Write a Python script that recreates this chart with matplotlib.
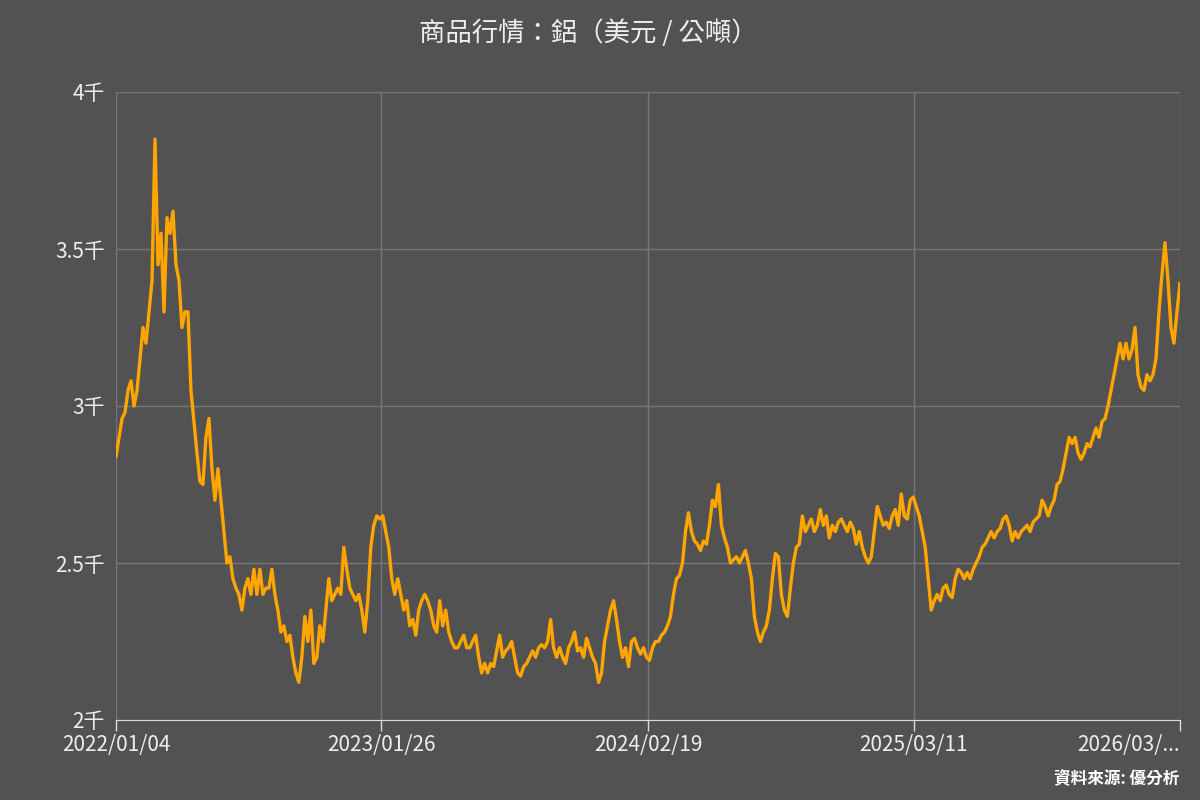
import matplotlib.pyplot as plt
import numpy as np

plt.rcParams['font.family'] = ['Noto Sans CJK TC', 'DejaVu Sans']

# aluminium price, USD / ton (evenly spaced samples)
prices = [
    2840, 2900, 2960, 2980, 3050, 3080, 3000, 3050, 3150, 3250, 3200, 3300, 3400, 3850,
    3450, 3550, 3300, 3600, 3550, 3620, 3450, 3400, 3250, 3300, 3300,
    3050, 2950, 2850, 2760, 2750, 2900, 2960, 2800, 2700, 2800, 2700, 2600, 2500, 2520,
    2450, 2420, 2400, 2350, 2420, 2450, 2400, 2480, 2400, 2480, 2400, 2420, 2420, 2480,
    2400, 2350, 2280, 2300, 2250, 2270, 2200, 2150, 2120, 2200, 2330, 2250, 2350, 2180,
    2200, 2300, 2250, 2350, 2450, 2380, 2400, 2420, 2400, 2550, 2480, 2420, 2400, 2380,
    2400, 2350, 2280, 2380, 2550, 2620, 2650, 2640, 2650, 2600, 2550, 2450, 2400, 2450,
    2400, 2350, 2380, 2300, 2320, 2270, 2350, 2380, 2400, 2380, 2350, 2300, 2280, 2380,
    2300, 2350, 2280, 2250, 2230, 2230, 2250, 2270, 2230, 2230, 2250, 2270, 2200, 2150,
    2180, 2150, 2180, 2170, 2220, 2270, 2200, 2220, 2230, 2250, 2200, 2150, 2140, 2170,
    2180, 2200, 2220, 2200, 2230, 2240, 2230, 2250, 2320, 2230, 2200, 2230, 2200, 2180,
    2230, 2250, 2280, 2220, 2230, 2200, 2260, 2230, 2200, 2180, 2120, 2150, 2250, 2300,
    2350, 2380, 2320, 2250, 2200, 2230, 2170, 2250, 2260, 2230, 2210, 2230, 2200, 2190,
    2230, 2250, 2250, 2270, 2280, 2300, 2330, 2400, 2450, 2460, 2500, 2600, 2660, 2600,
    2570, 2560, 2540, 2570, 2560, 2620, 2700, 2680, 2750, 2620, 2580, 2550, 2500, 2510,
    2520, 2500, 2520, 2540, 2500, 2450, 2330, 2280, 2250, 2280, 2300, 2350, 2450, 2530,
    2520, 2400, 2350, 2330, 2420, 2500, 2550, 2560, 2650, 2600, 2620, 2640, 2600, 2620,
    2670, 2620, 2650, 2580, 2620, 2600, 2630, 2640, 2620, 2600, 2630, 2610, 2560, 2600,
    2550, 2520, 2500, 2520, 2600, 2680, 2650, 2620, 2630, 2610, 2650, 2670, 2620, 2720,
    2650, 2640, 2700, 2710, 2680, 2650, 2600, 2550, 2450, 2350, 2380, 2400, 2380, 2420,
    2430, 2400, 2390, 2450, 2480, 2470, 2450, 2470, 2450, 2480, 2500, 2520, 2550, 2560,
    2580, 2600, 2580, 2600, 2610, 2640, 2650, 2620, 2570, 2600, 2580, 2600, 2610, 2620,
    2600, 2630, 2640, 2650, 2700, 2680, 2650, 2680, 2700, 2750, 2760, 2800, 2850, 2900,
    2880, 2900, 2850, 2830, 2850, 2880, 2870, 2900, 2930, 2900, 2950, 2960, 3000, 3050,
    3100, 3150, 3200, 3150, 3200, 3150, 3180, 3250, 3100, 3060, 3050, 3100, 3080, 3100,
    3150, 3300, 3420, 3520, 3400, 3250, 3200, 3300, 3390,
]
date_labels = ['2022/01/04', '2023/01/26', '2024/02/19', '2025/03/11', '2026/03/...']
tick_frac = [0, 0.249, 0.5, 0.75, 1.0]
y_ticks = [2000, 2500, 3000, 3500, 4000]
y_labels = ['2千', '2.5千', '3千', '3.5千', '4千']

bg = '#525252'
fig = plt.figure(figsize=(12, 8), dpi=100, facecolor=bg)
ax = fig.add_axes([0.0967, 0.1, 0.8866, 0.785], facecolor=bg)

x = np.arange(len(prices))
n = len(prices) - 1
ax.plot(x, prices, color='#ffa500', lw=2.4)

ax.set_xlim(0, n)
ax.set_ylim(2000, 4000)
ax.set_xticks([f * n for f in tick_frac])
ax.set_xticklabels(date_labels)
ax.set_yticks(y_ticks)
ax.set_yticklabels(y_labels)
ax.grid(True, color='#777777', lw=1)
ax.set_axisbelow(True)
for s in ['top', 'right', 'left']:
    ax.spines[s].set_visible(False)
ax.spines['bottom'].set_color('#dddddd')
ax.tick_params(axis='x', colors='#dddddd', labelsize=15, length=8, width=1,
               labelcolor='#eeeeee', pad=2)
ax.tick_params(axis='y', length=0, labelsize=15, labelcolor='#eeeeee', pad=8)
ax.get_xticklabels()[-1].set_ha('right')

fig.text(0.49, 0.958, '商品行情：鋁（美元 / 公噸）', ha='center', va='center',
         fontsize=19, color='#eeeeee')
fig.text(0.983, 0.015, '資料來源: 優分析', ha='right', va='bottom',
         fontsize=12, color='white', fontweight='bold')

fig.savefig('out.png', dpi=100, facecolor=bg)
